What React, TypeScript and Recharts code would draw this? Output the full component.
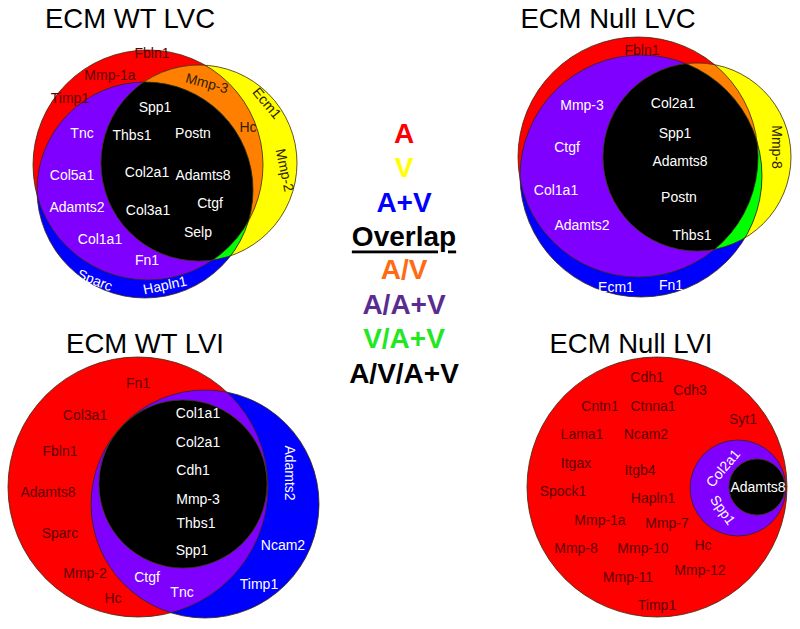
import { Scatter, ScatterChart, XAxis, YAxis } from "recharts";

// chart space: one unit = one pixel of the 800 x 629 figure, y runs downward
const X_MAX = 800;
const Y_MAX = 629;
const CHART_W = 800;
const CHART_H = 629;
const UNIT = CHART_W / X_MAX;

type SetKey = "A" | "V" | "AV";

interface VennCircle {
  set: SetKey;
  x: number;
  y: number;
  r: number;
}

interface VennLabel {
  text: string;
  x: number;
  y: number;
  tone: "red" | "white" | "dark";
  angle?: number;
}

const panelTitles = ["ECM WT LVC", "ECM Null LVC", "ECM WT LVI", "ECM Null LVI"];
const panelTitleX = [130, 608, 145, 631];
const panelTitleY = [18, 18, 343, 343];

const wtLvcCircles: VennCircle[] = [
  { set: "A", x: 148, y: 165, r: 115 },
  { set: "V", x: 199, y: 163, r: 98 },
  { set: "AV", x: 145, y: 190, r: 108 },
];
const nullLvcCircles: VennCircle[] = [
  { set: "A", x: 638, y: 157, r: 120 },
  { set: "V", x: 697, y: 157, r: 94 },
  { set: "AV", x: 641, y: 176, r: 121 },
];
const wtLviCircles: VennCircle[] = [
  { set: "A", x: 138, y: 487, r: 130 },
  { set: "V", x: 183, y: 484, r: 84 },
  { set: "AV", x: 205, y: 504, r: 114 },
];
const nullLviCircles: VennCircle[] = [
  { set: "A", x: 657, y: 487, r: 130 },
  { set: "V", x: 757, y: 487, r: 28 },
  { set: "AV", x: 738, y: 488, r: 48 },
];

const wtLvcGenes: VennLabel[] = [
  { text: "Fbln1", x: 152, y: 53, tone: "red" },
  { text: "Mmp-1a", x: 110, y: 75, tone: "red" },
  { text: "Timp1", x: 70, y: 98, tone: "red" },
  { text: "Mmp-3", x: 207, y: 83, tone: "dark", angle: 15 },
  { text: "Ecm1", x: 267, y: 103, tone: "dark", angle: 50 },
  { text: "Hc", x: 248, y: 127, tone: "dark" },
  { text: "Mmp-2", x: 285, y: 170, tone: "dark", angle: 78 },
  { text: "Spp1", x: 155, y: 107, tone: "white" },
  { text: "Tnc", x: 82, y: 133, tone: "white" },
  { text: "Thbs1", x: 132, y: 135, tone: "white" },
  { text: "Postn", x: 193, y: 133, tone: "white" },
  { text: "Col5a1", x: 72, y: 175, tone: "white" },
  { text: "Col2a1", x: 147, y: 172, tone: "white" },
  { text: "Adamts8", x: 203, y: 175, tone: "white" },
  { text: "Adamts2", x: 77, y: 207, tone: "white" },
  { text: "Col3a1", x: 148, y: 210, tone: "white" },
  { text: "Ctgf", x: 210, y: 203, tone: "white" },
  { text: "Selp", x: 198, y: 232, tone: "white" },
  { text: "Col1a1", x: 100, y: 239, tone: "white" },
  { text: "Fn1", x: 147, y: 260, tone: "white" },
  { text: "Sparc", x: 95, y: 280, tone: "white", angle: 22 },
  { text: "Hapln1", x: 165, y: 285, tone: "white", angle: -12 },
];

const nullLvcGenes: VennLabel[] = [
  { text: "Fbln1", x: 642, y: 50, tone: "red" },
  { text: "Mmp-3", x: 582, y: 105, tone: "white" },
  { text: "Col2a1", x: 673, y: 103, tone: "white" },
  { text: "Spp1", x: 675, y: 133, tone: "white" },
  { text: "Ctgf", x: 567, y: 147, tone: "white" },
  { text: "Adamts8", x: 680, y: 161, tone: "white" },
  { text: "Col1a1", x: 556, y: 190, tone: "white" },
  { text: "Postn", x: 679, y: 197, tone: "white" },
  { text: "Adamts2", x: 582, y: 225, tone: "white" },
  { text: "Thbs1", x: 692, y: 235, tone: "white" },
  { text: "Ecm1", x: 616, y: 287, tone: "white" },
  { text: "Fn1", x: 671, y: 285, tone: "white" },
  { text: "Mmp-8", x: 777, y: 147, tone: "dark", angle: 90 },
];

const wtLviGenes: VennLabel[] = [
  { text: "Fn1", x: 138, y: 383, tone: "red" },
  { text: "Col3a1", x: 85, y: 415, tone: "red" },
  { text: "Fbln1", x: 60, y: 451, tone: "red" },
  { text: "Adamts8", x: 48, y: 492, tone: "red" },
  { text: "Sparc", x: 60, y: 533, tone: "red" },
  { text: "Mmp-2", x: 85, y: 573, tone: "red" },
  { text: "Hc", x: 113, y: 598, tone: "red" },
  { text: "Col1a1", x: 198, y: 413, tone: "white" },
  { text: "Col2a1", x: 198, y: 442, tone: "white" },
  { text: "Cdh1", x: 193, y: 470, tone: "white" },
  { text: "Mmp-3", x: 198, y: 499, tone: "white" },
  { text: "Thbs1", x: 196, y: 523, tone: "white" },
  { text: "Spp1", x: 192, y: 550, tone: "white" },
  { text: "Ctgf", x: 147, y: 577, tone: "white" },
  { text: "Tnc", x: 182, y: 592, tone: "white" },
  { text: "Adamts2", x: 290, y: 473, tone: "white", angle: 90 },
  { text: "Ncam2", x: 283, y: 545, tone: "white" },
  { text: "Timp1", x: 259, y: 584, tone: "white" },
];

const nullLviGenes: VennLabel[] = [
  { text: "Cdh1", x: 647, y: 377, tone: "red" },
  { text: "Cdh3", x: 690, y: 390, tone: "red" },
  { text: "Cntn1", x: 600, y: 406, tone: "red" },
  { text: "Ctnna1", x: 653, y: 406, tone: "red" },
  { text: "Syt1", x: 743, y: 419, tone: "red" },
  { text: "Lama1", x: 582, y: 434, tone: "red" },
  { text: "Ncam2", x: 646, y: 434, tone: "red" },
  { text: "Itgax", x: 576, y: 463, tone: "red" },
  { text: "Itgb4", x: 640, y: 470, tone: "red" },
  { text: "Spock1", x: 563, y: 491, tone: "red" },
  { text: "Hapln1", x: 653, y: 498, tone: "red" },
  { text: "Mmp-1a", x: 600, y: 520, tone: "red" },
  { text: "Mmp-7", x: 667, y: 523, tone: "red" },
  { text: "Mmp-8", x: 576, y: 548, tone: "red" },
  { text: "Mmp-10", x: 643, y: 548, tone: "red" },
  { text: "Hc", x: 703, y: 545, tone: "red" },
  { text: "Mmp-11", x: 628, y: 577, tone: "red" },
  { text: "Mmp-12", x: 700, y: 570, tone: "red" },
  { text: "Timp1", x: 657, y: 605, tone: "red" },
  { text: "Col2a1", x: 723, y: 468, tone: "white", angle: -50 },
  { text: "Adamts8", x: 758, y: 487, tone: "white" },
  { text: "Spp1", x: 723, y: 510, tone: "white", angle: 55 },
];

const legendItems = ["A", "V", "A+V", "Overlap", "A/V", "A/A+V", "V/A+V", "A/V/A+V"];
const legendY = [133, 167, 202, 236, 269, 304, 338, 373];
const legendX = 404;

const SET_FILL: Record<SetKey, string> = { A: "#ff0000", V: "#ffff00", AV: "#0000ff" };
const OVERLAP_FILL = { AV_: "#ff8000", A_AV: "#8000ff", V_AV: "#00ff00", ALL: "#000000" };
const LEGEND_COLOR = ["#ff0000", "#ffff00", "#0000ff", "#000000", "#ff6a13", "#5b2c8f", "#22e822", "#000000"];
const TONE_COLOR = { red: "#5c0000", white: "#ffffff", dark: "#2e2200" };
const FONT = "Arial, 'Liberation Sans', sans-serif";

const panels = [wtLvcCircles, nullLvcCircles, wtLviCircles, nullLviCircles];
const circleRows = panels.flatMap((circles, p) => circles.map((c) => ({ ...c, id: `venn-${p}-${c.set}` })));

function find(p: number, set: SetKey) {
  return circleRows.find((c) => c.id === `venn-${p}-${set}`)!;
}

// overlap layers: a circle painted again, clipped by the other circles
const overlapRows = panels.flatMap((_, p) => {
  const a = find(p, "A");
  const v = find(p, "V");
  return [
    { x: a.x, y: a.y, r: a.r, clips: [v.id], fill: OVERLAP_FILL.AV_ },
    { x: a.x, y: a.y, r: a.r, clips: [find(p, "AV").id], fill: OVERLAP_FILL.A_AV },
    { x: v.x, y: v.y, r: v.r, clips: [find(p, "AV").id], fill: OVERLAP_FILL.V_AV },
    { x: v.x, y: v.y, r: v.r, clips: [a.id, find(p, "AV").id], fill: OVERLAP_FILL.ALL },
  ];
});

const geneRows = [wtLvcGenes, nullLvcGenes, wtLviGenes, nullLviGenes].flat();
const titleRows = panelTitles.map((text, i) => ({ text, x: panelTitleX[i], y: panelTitleY[i] }));
const legendRows = legendItems.map((text, i) => ({ text, x: legendX, y: legendY[i], color: LEGEND_COLOR[i] }));

const BaseCircle = (props: any) => {
  const { cx, cy, payload } = props;
  const r = payload.r * UNIT;
  return (
    <g>
      <defs>
        <clipPath id={payload.id}>
          <circle cx={cx} cy={cy} r={r} />
        </clipPath>
      </defs>
      <circle cx={cx} cy={cy} r={r} fill={SET_FILL[payload.set as SetKey]} />
    </g>
  );
};

const OverlapCircle = (props: any) => {
  const { cx, cy, payload } = props;
  const clips: string[] = payload.clips;
  let node = <circle cx={cx} cy={cy} r={payload.r * UNIT} fill={payload.fill} clipPath={`url(#${clips[clips.length - 1]})`} />;
  for (let i = clips.length - 2; i >= 0; i--) {
    node = <g clipPath={`url(#${clips[i]})`}>{node}</g>;
  }
  return node;
};

const OutlineCircle = (props: any) => {
  const { cx, cy, payload } = props;
  return <circle cx={cx} cy={cy} r={payload.r * UNIT} fill="none" stroke="#3a2a0c" strokeWidth={0.8} />;
};

const GeneText = (props: any) => {
  const { cx, cy, payload } = props;
  return (
    <text
      x={cx}
      y={cy}
      textAnchor="middle"
      dominantBaseline="central"
      fontFamily={FONT}
      fontSize={14}
      fill={TONE_COLOR[payload.tone as VennLabel["tone"]]}
      transform={payload.angle ? `rotate(${payload.angle} ${cx} ${cy})` : undefined}
    >
      {payload.text}
    </text>
  );
};

const TitleText = (props: any) => {
  const { cx, cy, payload } = props;
  return (
    <text x={cx} y={cy} textAnchor="middle" dominantBaseline="central" fontFamily={FONT} fontSize={27.5} fill="#000">
      {payload.text}
    </text>
  );
};

const LegendText = (props: any) => {
  const { cx, cy, payload } = props;
  return (
    <text
      x={cx}
      y={cy}
      textAnchor="middle"
      dominantBaseline="central"
      fontFamily={FONT}
      fontSize={28}
      fontWeight="bold"
      fill={payload.color}
      textDecoration={payload.text === "Overlap" ? "underline" : undefined}
    >
      {payload.text}
    </text>
  );
};

export default function App() {
  return (
    <div style={{ position: "absolute", left: 0, top: 0, width: CHART_W, height: CHART_H, background: "#fff" }}>
      <ScatterChart width={CHART_W} height={CHART_H} margin={{ top: 0, right: 0, bottom: 0, left: 0 }}>
        <XAxis type="number" dataKey="x" domain={[0, X_MAX]} allowDataOverflow hide />
        <YAxis type="number" dataKey="y" domain={[0, Y_MAX]} allowDataOverflow reversed hide />
        <Scatter data={circleRows} shape={BaseCircle} isAnimationActive={false} />
        <Scatter data={overlapRows} shape={OverlapCircle} isAnimationActive={false} />
        <Scatter data={circleRows} shape={OutlineCircle} isAnimationActive={false} />
        <Scatter data={geneRows} shape={GeneText} isAnimationActive={false} />
        <Scatter data={titleRows} shape={TitleText} isAnimationActive={false} />
        <Scatter data={legendRows} shape={LegendText} isAnimationActive={false} />
      </ScatterChart>
    </div>
  );
}
